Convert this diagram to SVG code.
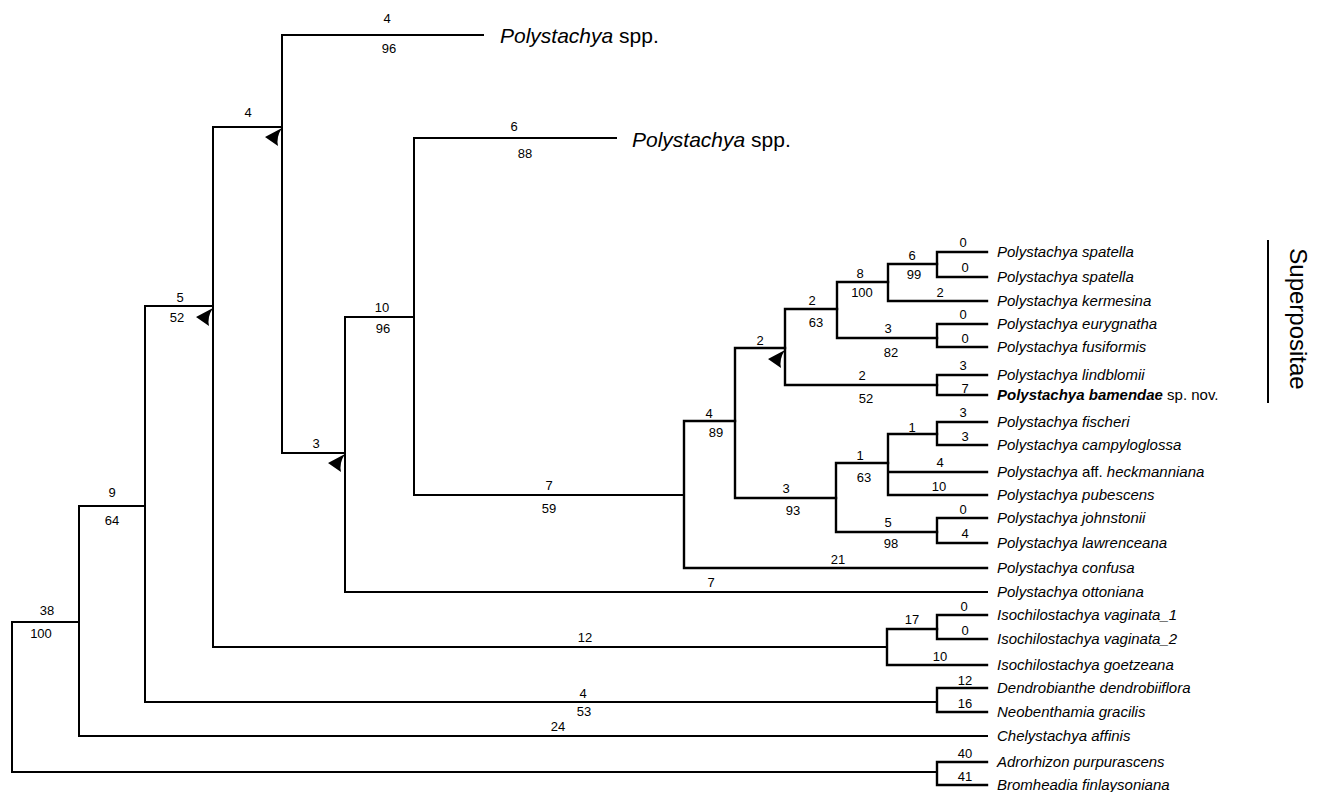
<svg xmlns="http://www.w3.org/2000/svg" width="1317" height="792" viewBox="0 0 1317 792">
<defs>
<style>
.br{fill:none;stroke:#000;stroke-width:2;stroke-linecap:square;stroke-linejoin:miter}
.br2{fill:none;stroke:#000;stroke-width:2.4;stroke-linecap:square;stroke-linejoin:miter}
.n{font-family:"Liberation Sans",Arial,sans-serif;font-size:13px;fill:#000;text-anchor:middle}
.lf{font-family:"Liberation Sans",Arial,sans-serif;font-size:15px;font-style:italic;fill:#000}
.big{font-family:"Liberation Sans",Arial,sans-serif;font-size:21px;fill:#000}
</style>
<path id="ah" d="M0,1 L-17,10 L-4,19 Q-6,10 0,1 Z" fill="#000"/>
</defs>
<rect width="1317" height="792" fill="#fff"/>
<g id="connectors">
<path class="br" d="M12,622 V772 M12,622 H79 M12,772 H937"/>
<path class="br" d="M79,506 V736 M79,506 H145 M79,736 H987"/>
<path class="br" d="M145,306 V702 M145,306 H213 M145,702 H937"/>
<path class="br" d="M213,127 V647 M213,127 H282 M213,647 H887"/>
<path class="br" d="M282,35 V453 M282,35 H483 M282,453 H345"/>
<path class="br" d="M345,317 V592 M345,317 H414 M345,592 H987"/>
<path class="br" d="M414,138 V495 M414,138 H616 M414,495 H684"/>
<path class="br2" d="M684,421 V568 M684,421 H735 M684,568 H987"/>
<path class="br2" d="M735,348 V498 M735,348 H785 M735,498 H836"/>
<path class="br2" d="M785,309 V385 M785,309 H837 M785,385 H937"/>
<path class="br2" d="M837,282 V338 M837,282 H888 M837,338 H937"/>
<path class="br2" d="M888,264 V301 M888,264 H937 M888,301 H987"/>
<path class="br2" d="M937,252 V277 M937,252 H987 M937,277 H987"/>
<path class="br2" d="M937,324 V347 M937,324 H987 M937,347 H987"/>
<path class="br2" d="M937,375 V395 M937,375 H987 M937,395 H987"/>
<path class="br2" d="M836,463 V532 M836,463 H888 M836,532 H937"/>
<path class="br2" d="M888,434 V495 M888,434 H937 M888,472 H987 M888,495 H987"/>
<path class="br2" d="M937,422 V445 M937,422 H987 M937,445 H987"/>
<path class="br2" d="M937,518 V543 M937,518 H987 M937,543 H987"/>
<path class="br2" d="M887,629 V665 M887,629 H937 M887,665 H987"/>
<path class="br2" d="M937,615 V639 M937,615 H987 M937,639 H987"/>
<path class="br2" d="M937,688 V712 M937,688 H987 M937,712 H987"/>
<path class="br2" d="M937,762 V785 M937,762 H987 M937,785 H987"/>
<use href="#ah" x="213" y="307"/>
<use href="#ah" x="282" y="127"/>
<use href="#ah" x="345" y="453"/>
<use href="#ah" x="785" y="349"/>
<path d="M1268,240 V403" stroke="#000" stroke-width="2" fill="none"/>
</g>
<g id="branch-labels">
<text class="n" x="387" y="23">4</text><text class="n" x="389" y="53">96</text>
<text class="n" x="248" y="117">4</text>
<text class="n" x="514" y="131">6</text><text class="n" x="525" y="158">88</text>
<text class="n" x="180" y="302">5</text><text class="n" x="177" y="322">52</text>
<text class="n" x="382" y="312">10</text><text class="n" x="383" y="333">96</text>
<text class="n" x="316" y="448">3</text>
<text class="n" x="549" y="490">7</text><text class="n" x="549" y="513">59</text>
<text class="n" x="112" y="497">9</text><text class="n" x="112" y="525">64</text>
<text class="n" x="47" y="615">38</text><text class="n" x="41" y="638">100</text>
<text class="n" x="711" y="587">7</text>
<text class="n" x="585" y="642">12</text>
<text class="n" x="583" y="698">4</text><text class="n" x="584" y="716">53</text>
<text class="n" x="558" y="731">24</text>
<text class="n" x="709" y="418">4</text><text class="n" x="716" y="437">89</text>
<text class="n" x="760" y="345">2</text>
<text class="n" x="812" y="305">2</text><text class="n" x="816" y="327">63</text>
<text class="n" x="860" y="278">8</text><text class="n" x="862" y="297">100</text>
<text class="n" x="912" y="260">6</text><text class="n" x="914" y="279">99</text>
<text class="n" x="963" y="247">0</text><text class="n" x="965" y="272">0</text>
<text class="n" x="940" y="297">2</text>
<text class="n" x="888" y="333">3</text><text class="n" x="891" y="357">82</text>
<text class="n" x="963" y="319">0</text><text class="n" x="965" y="343">0</text>
<text class="n" x="862" y="380">2</text><text class="n" x="866" y="403">52</text>
<text class="n" x="963" y="370">3</text><text class="n" x="965" y="393">7</text>
<text class="n" x="786" y="493">3</text><text class="n" x="793" y="515">93</text>
<text class="n" x="860" y="460">1</text><text class="n" x="864" y="482">63</text>
<text class="n" x="912" y="432">1</text>
<text class="n" x="963" y="417">3</text><text class="n" x="965" y="441">3</text>
<text class="n" x="940" y="467">4</text>
<text class="n" x="939" y="491">10</text>
<text class="n" x="888" y="527">5</text><text class="n" x="891" y="548">98</text>
<text class="n" x="963" y="514">0</text><text class="n" x="965" y="538">4</text>
<text class="n" x="838" y="564">21</text>
<text class="n" x="912" y="624">17</text>
<text class="n" x="964" y="611">0</text><text class="n" x="965" y="635">0</text>
<text class="n" x="940" y="661">10</text>
<text class="n" x="965" y="685">12</text><text class="n" x="965" y="708">16</text>
<text class="n" x="965" y="758">40</text><text class="n" x="965" y="781">41</text>
</g>
<g id="clade-polystachya-spp-1"><text class="big" x="500" y="43"><tspan font-style="italic">Polystachya</tspan> spp.</text></g>
<g id="clade-polystachya-spp-2"><text class="big" x="632" y="147"><tspan font-style="italic">Polystachya</tspan> spp.</text></g>
<g id="leaves">
<text class="lf" x="997" y="257">Polystachya spatella</text>
<text class="lf" x="997" y="282">Polystachya spatella</text>
<text class="lf" x="997" y="306">Polystachya kermesina</text>
<text class="lf" x="997" y="329">Polystachya eurygnatha</text>
<text class="lf" x="997" y="352">Polystachya fusiformis</text>
<text class="lf" x="997" y="380">Polystachya lindblomii</text>
<text class="lf" x="997" y="400"><tspan font-weight="bold">Polystachya bamendae</tspan><tspan font-style="normal"> sp. nov.</tspan></text>
<text class="lf" x="997" y="427">Polystachya fischeri</text>
<text class="lf" x="997" y="450">Polystachya campyloglossa</text>
<text class="lf" x="997" y="477">Polystachya <tspan font-style="normal">aff.</tspan> heckmanniana</text>
<text class="lf" x="997" y="500">Polystachya pubescens</text>
<text class="lf" x="997" y="523">Polystachya johnstonii</text>
<text class="lf" x="997" y="548">Polystachya lawrenceana</text>
<text class="lf" x="997" y="573">Polystachya confusa</text>
<text class="lf" x="997" y="597">Polystachya ottoniana</text>
<text class="lf" x="997" y="620">Isochilostachya vaginata_1</text>
<text class="lf" x="997" y="644">Isochilostachya vaginata_2</text>
<text class="lf" x="997" y="670">Isochilostachya goetzeana</text>
<text class="lf" x="997" y="693">Dendrobianthe dendrobiiflora</text>
<text class="lf" x="997" y="717">Neobenthamia gracilis</text>
<text class="lf" x="997" y="741">Chelystachya affinis</text>
<text class="lf" x="997" y="767">Adrorhizon purpurascens</text>
<text class="lf" x="997" y="790">Bromheadia finlaysoniana</text>
</g>
<g id="superpositae"><text font-family="Liberation Sans, Arial, sans-serif" font-size="24" text-anchor="middle" transform="translate(1290,319) rotate(90)">Superpositae</text></g>
</svg>
